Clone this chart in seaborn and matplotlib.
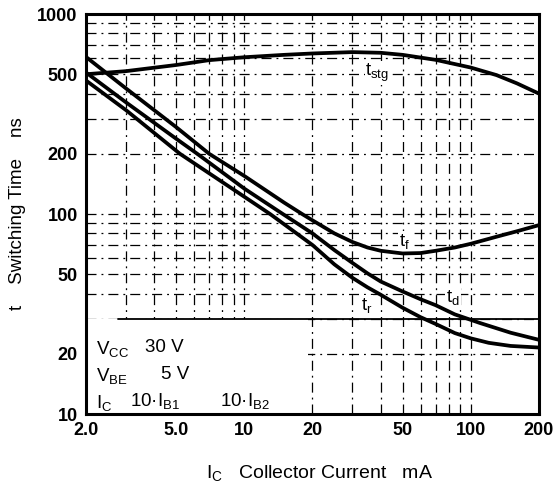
import numpy as np
import pandas as pd
import matplotlib
matplotlib.use("Agg")
import matplotlib.pyplot as plt
import seaborn as sns
from matplotlib.ticker import FixedLocator, NullFormatter

sns.set_theme(style="white")
plt.rcParams['font.family'] = ['Liberation Sans', 'DejaVu Sans']
plt.rcParams['mathtext.fontset'] = 'custom'
plt.rcParams['mathtext.rm'] = 'Liberation Sans'
plt.rcParams['mathtext.it'] = 'Liberation Sans'
plt.rcParams['text.color'] = 'black'
plt.rcParams['xtick.color'] = 'black'
plt.rcParams['ytick.color'] = 'black'

# data (Ic in mA, time in ns)
tstg_x = [2, 3, 5, 7, 10, 15, 20, 30, 40, 50, 70, 100, 130, 160, 200]
tstg_y = [500, 518, 556, 588, 608, 625, 635, 645, 640, 625, 590, 540, 495, 450, 400]

tf_x = [2, 3, 5, 7, 10, 15, 18, 20, 25, 30, 35, 40, 50, 60, 70, 85, 100, 130, 160, 200]
tf_y = [610, 425, 272, 200, 155, 114, 100, 93, 80, 72.5, 68, 65.5, 63.5, 63.8, 65.5, 68, 71, 77, 82, 88]

td_x = [2, 3, 5, 6.2, 10, 14.8, 20, 25, 30, 35, 40, 50, 60, 70, 85, 110, 150, 200]
td_y = [510, 362, 238, 200, 134, 100, 80, 66, 57, 50.5, 46, 41, 37.5, 35, 31.5, 28.5, 25.5, 23.5]

tr_x = [2, 3, 5.2, 10, 13, 20, 25, 30, 35, 40, 50, 60, 70, 85, 100, 120, 150, 200]
tr_y = [465, 331, 200, 122, 100, 70, 56, 48, 43, 39.5, 34, 30.5, 28.2, 25.4, 23.9, 22.7, 21.9, 21.5]

xticks = [2, 5, 10, 20, 50, 100, 200]
xtick_labels = ["2.0", "5.0", "10", "20", "50", "100", "200"]
yticks = [10, 20, 50, 100, 200, 500, 1000]
ytick_labels = ["10", "20", "50", "100", "200", "500", "1000"]

frames = []
for name, xs, ys in [("tstg", tstg_x, tstg_y), ("tf", tf_x, tf_y),
                     ("td", td_x, td_y), ("tr", tr_x, tr_y)]:
    frames.append(pd.DataFrame({"Ic": xs, "t": ys, "series": name}))
df = pd.concat(frames, ignore_index=True)

fig = plt.figure(figsize=(5.55, 4.92), dpi=100)
ax = fig.add_axes([0.155, 0.1585, 0.816, 0.813])
ax.set_xscale("log")
ax.set_yscale("log")
ax.set_xlim(2, 200)
ax.set_ylim(10, 1000)

# grid (dash-dot, like the datasheet)
gx = [3, 4, 5, 6, 7, 8, 9, 10, 20, 30, 40, 50, 60, 70, 80, 90, 100]
gy = [20, 30, 40, 50, 60, 70, 80, 90, 100, 200, 300, 400, 500, 600, 700, 800, 900]
gstyle = (0, (8, 4, 1.5, 4))
for v in gx:
    ax.axvline(v, color="black", lw=0.9, ls=gstyle, zorder=1)
for v in gy:
    ax.axhline(v, color="black", lw=0.9, ls=gstyle, zorder=1)
ax.axhspan(10, 30, xmin=0, xmax=0.49, color="white", zorder=1.5, lw=0)
ax.axhline(30, xmin=0.07, xmax=1, color="black", lw=1.3, zorder=1.6)

sns.lineplot(data=df, x="Ic", y="t", hue="series", palette=["black"] * 4,
             linewidth=2.7, legend=False, ax=ax, sort=False, zorder=3)

ax.xaxis.set_major_locator(FixedLocator(xticks))
ax.set_xticklabels(xtick_labels)
ax.xaxis.set_minor_formatter(NullFormatter())
ax.yaxis.set_major_locator(FixedLocator(yticks))
ax.set_yticklabels(ytick_labels)
ax.yaxis.set_minor_formatter(NullFormatter())
ax.tick_params(which="both", length=0, labelsize=13, pad=6, colors="black")
for lab in ax.get_xticklabels() + ax.get_yticklabels():
    lab.set_fontweight("bold")
ax.set_xlabel("")
ax.set_ylabel("")
for s in ax.spines.values():
    s.set_color("black")
    s.set_linewidth(2.2)
    s.set_visible(True)

fig.text(0.575, 0.039, r"I$_\mathregular{C}$   Collector Current   mA",
         ha="center", va="center", fontsize=14, color="black")
fig.text(0.032, 0.565, "t    Switching Time    ns", rotation=90,
         ha="center", va="center", fontsize=13.5, color="black")

bb = dict(facecolor="white", edgecolor="none", pad=0.5)
ax.text(0.617, 0.845, r"t$_\mathregular{stg}$", transform=ax.transAxes, fontsize=13.5, bbox=bb, zorder=2)
ax.text(0.69, 0.42, r"t$_\mathregular{f}$", transform=ax.transAxes, fontsize=13.5, bbox=bb, zorder=2)
ax.text(0.795, 0.28, r"t$_\mathregular{d}$", transform=ax.transAxes, fontsize=13.5, bbox=bb, zorder=2)
ax.text(0.607, 0.26, r"t$_\mathregular{r}$", transform=ax.transAxes, fontsize=13.5, bbox=bb, zorder=2)

fs = 13.5
ax.text(0.022, 0.15, r"V$_\mathregular{CC}$", transform=ax.transAxes, fontsize=fs)
ax.text(0.13, 0.155, "30 V", transform=ax.transAxes, fontsize=fs)
ax.text(0.022, 0.083, r"V$_\mathregular{BE}$", transform=ax.transAxes, fontsize=fs)
ax.text(0.165, 0.088, "5 V", transform=ax.transAxes, fontsize=fs)
ax.text(0.022, 0.015, r"I$_\mathregular{C}$", transform=ax.transAxes, fontsize=fs)
ax.text(0.098, 0.02, r"10·I$_\mathregular{B1}$", transform=ax.transAxes, fontsize=fs)
ax.text(0.295, 0.02, r"10·I$_\mathregular{B2}$", transform=ax.transAxes, fontsize=fs)

fig.savefig("out.png", dpi=100, facecolor="white")
